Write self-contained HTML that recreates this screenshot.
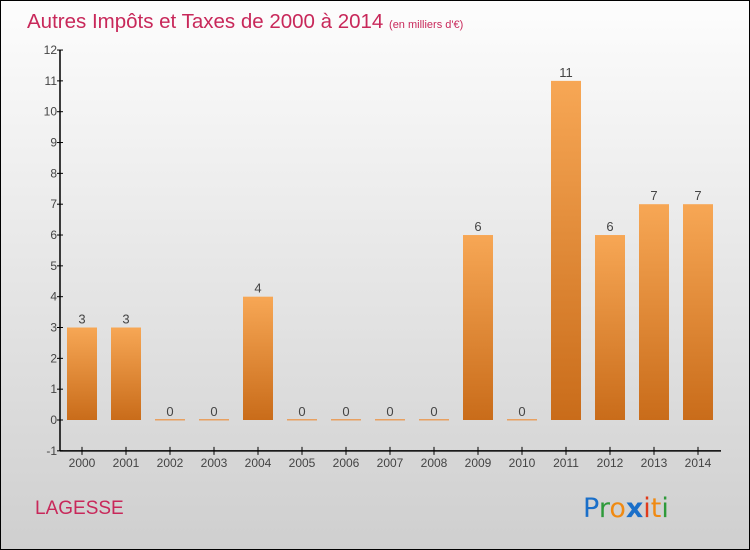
<!DOCTYPE html>
<html><head><meta charset="utf-8"><style>
body{margin:0}
#c{position:relative;width:748px;height:548px;border:1px solid #000;background:linear-gradient(#fdfdfd,#cfcfcf);font-family:"Liberation Sans",sans-serif;overflow:hidden}
</style></head><body>
<div id="c">
<svg width="748" height="548" style="position:absolute;left:0;top:0" id="svg">
<defs><linearGradient id="g" x1="0" y1="0" x2="0" y2="1"><stop offset="0" stop-color="#f7a755"/><stop offset="1" stop-color="#c96c1a"/></linearGradient></defs>
<text x="26" y="27" font-size="20.5" fill="#c8285a">Autres Impôts et Taxes de 2000 à 2014 <tspan font-size="11">(en milliers d'€)</tspan></text>
<text x="34" y="513" font-size="19" fill="#c8285a">LAGESSE</text>
<g font-size="27" font-family="'DejaVu Sans',sans-serif"><text x="582" y="516"><tspan fill="#1a6fc9">P</tspan><tspan fill="#2e9a3a">r</tspan><tspan fill="#f08a12">o</tspan><tspan fill="#1a6fc9" font-weight="bold">x</tspan><tspan fill="#e03a1a">i</tspan><tspan fill="#f08a12">t</tspan><tspan fill="#2e9a3a">i</tspan></text></g>
<g id="plot"></g>
</svg></div>
<script>
const categories=["2000","2001","2002","2003","2004","2005","2006","2007","2008","2009","2010","2011","2012","2013","2014"];
const values=[3,3,0,0,4,0,0,0,0,6,0,11,6,7,7];
const yTicks=[-1,0,1,2,3,4,5,6,7,8,9,10,11,12];
const NS="http://www.w3.org/2000/svg";
const g=document.getElementById('plot');
const y=v=>419-(v)*30.83;
const x=i=>81+i*44;
function mk(t,a){const e=document.createElementNS(NS,t);for(const k in a)e.setAttribute(k,a[k]);g.appendChild(e);return e;}
let ax=mk('line',{x1:59,y1:y(12),x2:59,y2:y(-1),stroke:'#000','stroke-width':1.5});


let bx=mk('line',{x1:59,y1:y(-1),x2:720,y2:y(-1),stroke:'#000','stroke-width':1.5});


yTicks.forEach(t=>{
 const l=mk('line',{x1:56,y1:y(t),x2:62,y2:y(t),stroke:'#000'});
 
 
 const tx=mk('text',{x:56,y:y(t)+4,'font-size':12,fill:'#444','text-anchor':'end'});
 tx.textContent=t;
 
 
});
categories.forEach((c,i)=>{
 const v=values[i],cx=x(i);
 const l=mk('line',{x1:cx,y1:y(-1)-4,x2:cx,y2:y(-1)+4,stroke:'#000'});
 
 
 const tl=mk('text',{x:cx,y:y(-1)+16,'font-size':12,fill:'#444','text-anchor':'middle'});
 tl.textContent=c;
 
 
 let b;
 if(v>0){b=mk('rect',{x:cx-15,y:y(v),width:30,height:y(0)-y(v),fill:'url(#g)'});}
 else{b=mk('rect',{x:cx-15,y:y(0)-1,width:30,height:1.5,fill:'#e8a060'});}
 
 
 const vl=mk('text',{x:cx,y:y(v)-4,'font-size':13,fill:'#444','text-anchor':'middle'});
 vl.textContent=v;
 
 
});
</script>
</body></html>
